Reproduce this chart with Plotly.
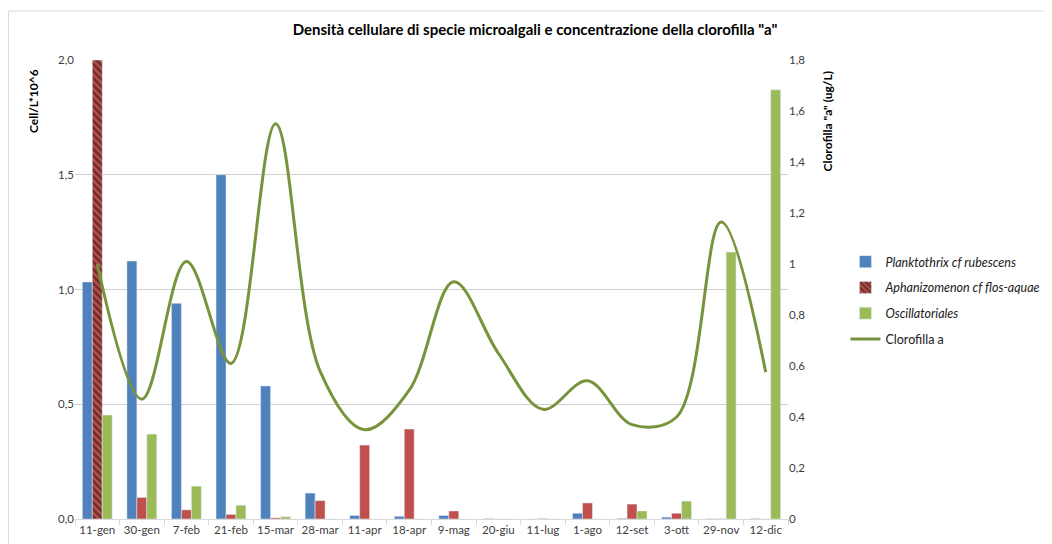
import plotly.graph_objects as go

date = ['11-gen', '30-gen', '7-feb', '21-feb', '15-mar', '28-mar', '11-apr', '18-apr',
        '9-mag', '20-giu', '11-lug', '1-ago', '12-set', '3-ott', '29-nov', '12-dic']

planktothrix = [1.033, 1.124, 0.94, 1.5, 0.58, 0.113, 0.015, 0.012,
                0.015, 0.002, 0.0, 0.025, 0.003, 0.008, 0.001, 0.002]
aphanizomenon = [2.0, 0.094, 0.04, 0.02, 0.005, 0.08, 0.322, 0.392,
                 0.035, 0.0, 0.002, 0.07, 0.065, 0.025, 0.001, 0.0]
oscillatoriales = [0.453, 0.37, 0.143, 0.06, 0.01, 0.0, 0.0, 0.0,
                   0.0, 0.0, 0.0, 0.0, 0.035, 0.078, 1.163, 1.87]
clorofilla = [1.0, 0.47, 1.01, 0.61, 1.55, 0.58, 0.35, 0.505,
              0.93, 0.65, 0.43, 0.542, 0.37, 0.40, 1.165, 0.576]

y2_ticks = [0, 0.2, 0.4, 0.6, 0.8, 1.0, 1.2, 1.4, 1.6, 1.8]
y2_labels = ['0', '0,2', '0,4', '0,6', '0,8', '1', '1,2', '1,4', '1,6', '1,8']

font = 'Lato, "Open Sans", sans-serif'

fig = go.Figure()
fig.add_trace(go.Bar(x=date, y=planktothrix, name='<i>Planktothrix cf rubescens</i>',
                     marker_color='#4F81BD', legendgroup='a'))
fig.add_trace(go.Bar(x=date, y=aphanizomenon, name='<i>Aphanizomenon cf flos-aquae</i>',
                     marker=dict(color='#C0504D',
                                 pattern=dict(shape=['\\'] + [''] * 15, fgcolor='#111111',
                                              bgcolor='#C0504D', size=5, solidity=0.55)),
                     legendgroup='b'))
fig.add_trace(go.Bar(x=date, y=oscillatoriales, name='<i>Oscillatoriales</i>',
                     marker_color='#9BBB59', legendgroup='c'))
fig.add_trace(go.Scatter(x=date, y=clorofilla, name='Clorofilla a', yaxis='y2',
                         mode='lines', line=dict(color='#77933C', width=3, shape='spline', smoothing=1.0),
                         legendgroup='d'))

# page has an 8px body margin; figure coords = page coords - 8
# plot area in figure coords: x 67..780.5, y 52..511
L, R, T, B = 67, 780.5, 52, 511
W, H = 1044, 536
pw, ph = R - L, B - T

# outer chart border
fig.add_shape(type='rect', xref='paper', yref='paper',
              x0=(0.5 - L) / pw, x1=(1040 - L) / pw, y0=(B - 560) / ph, y1=(B - 3) / ph,
              line=dict(color='#D9D9D9', width=1), fillcolor='rgba(0,0,0,0)', layer='below')

# axis titles (placed near the top like the original)
fig.add_annotation(text='<b>Cell/L*10^6</b>', textangle=-90, showarrow=False,
                   xref='paper', yref='paper', x=(25 - L) / pw, y=(B - 93) / ph,
                   xanchor='center', yanchor='middle', font=dict(size=12, color='black'))
fig.add_annotation(text='<b>Clorofilla "a" (ug/L)</b>', textangle=-90, showarrow=False,
                   xref='paper', yref='paper', x=(820 - L) / pw, y=(B - 113) / ph,
                   xanchor='center', yanchor='middle', font=dict(size=12, color='black'))

fig.update_layout(
    width=W, height=H,
    margin=dict(l=L, r=W - R, t=T, b=H - B, autoexpand=False),
    paper_bgcolor='white', plot_bgcolor='white',
    font=dict(family=font, size=12, color='#404040'),
    barmode='group', bargap=0.33, bargroupgap=0,
    title=dict(text='<b>Densità cellulare di specie microalgali e concentrazione della clorofilla "a"</b>',
               x=527 / W, xanchor='center', y=1 - 22 / H, yanchor='middle',
               font=dict(family=font, size=15, color='black')),
    xaxis=dict(type='category', showgrid=False, showline=True, linecolor='#D9D9D9',
               ticks='outside', tickson='boundaries', ticklen=5, tickcolor='#D9D9D9',
               tickangle=0, tickfont=dict(size=11.5, color='#404040'), automargin=False),
    yaxis=dict(range=[0, 2], dtick=0.5, tickformat='.1f', showgrid=True, gridcolor='#D0D0D0',
               zeroline=False, showline=False, ticks='', ticklen=0,
               tickfont=dict(size=11.5, color='#404040'), automargin=False),
    yaxis2=dict(overlaying='y', side='right', range=[0, 1.8], tickvals=y2_ticks, ticktext=y2_labels,
                showgrid=False, zeroline=False, showline=False, ticks='',
                tickfont=dict(size=11.5, color='#404040'), automargin=False),
    separators=',.',
    legend=dict(x=(838 - L) / pw, y=(B - 239) / ph, xanchor='left', yanchor='top',
                font=dict(size=12.5, color='#202020'), tracegroupgap=6.5, bgcolor='rgba(0,0,0,0)'),
    showlegend=True,
)

fig.write_html('out.html')
